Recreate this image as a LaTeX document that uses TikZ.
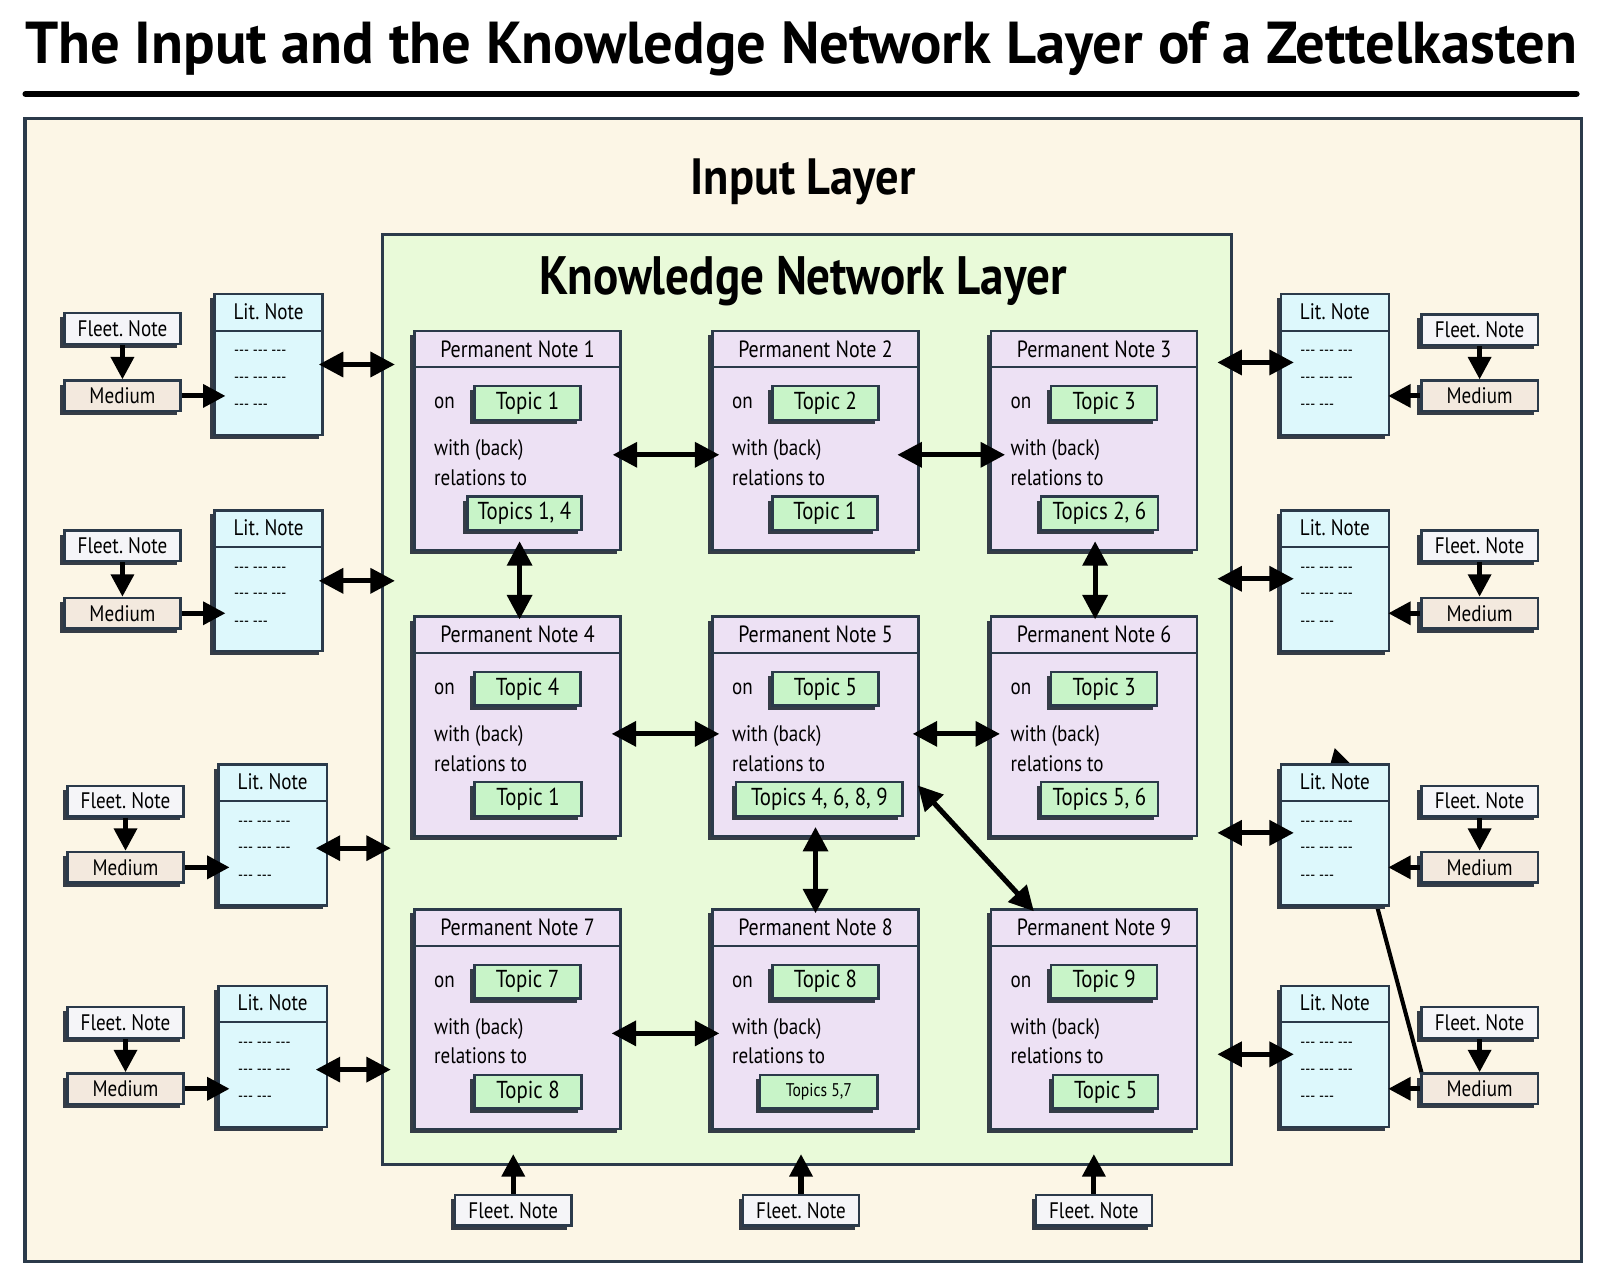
\documentclass[tikz,border=0pt]{standalone}
\usepackage{fontspec}
\setmainfont[FakeStretch=0.85]{PT Sans}
\newfontfamily\titlefont[FakeStretch=0.99]{PT Sans}
\newfontfamily\inlfont[FakeStretch=0.91]{PT Sans}
\newfontfamily\layerfont[FakeStretch=0.87]{PT Sans}
\usetikzlibrary{arrows.meta,shadows,calc}
\definecolor{bdr}{HTML}{2B3A4A}
\definecolor{shd}{HTML}{353C46}
\definecolor{outerfill}{HTML}{FCF6E6}
\definecolor{knfill}{HTML}{E9FAD9}
\definecolor{notefill}{HTML}{EDE1F4}
\definecolor{topicfill}{HTML}{C8F4C8}
\definecolor{litfill}{HTML}{DDF8FC}
\definecolor{fleetfill}{HTML}{F5F5F8}
\definecolor{medfill}{HTML}{F3E9DE}
\pgfdeclarelayer{back}
\pgfdeclarelayer{mid}
\pgfsetlayers{back,mid,main}

\newcommand{\PNote}[8]{%
  \node[pnote, anchor=north west] (#1) at (#2,#3) {};
  \draw[sep] ([yshift=-18.5pt]#1.north west) -- ([yshift=-18.5pt]#1.north east);
  \node[ptitle] (#1h) at ($(#1.north)+(0,19)$) {Permanent Note #4};
  \node[ptext, anchor=west] (#1on) at ($(#1.north west)+(20,72)$) {on};
  \node[topicbox, minimum width=52pt] (#1t) at ($(#1.north west)+(112,72)$) {#5};
  \node[ptext, anchor=west] (#1w) at ($(#1.north west)+(20,118)$) {with (back)};
  \node[ptext, anchor=west] (#1r) at ($(#1.north west)+(20,145)$) {relations to};
  \node[topicbox, minimum width=#8] (#1rel) at ($(#1.north west)+(#7,180)$) {#6};
}
\newcommand{\LitNote}[3]{%
  \node[lit, anchor=north west] (#1) at (#2,#3) {};
  \draw[sep] ([yshift=-18.5pt]#1.north west) -- ([yshift=-18.5pt]#1.north east);
  \node[littitle] (#1h) at ($(#1.north)+(0,18)$) {Lit.\ Note};
  \node[dashtext, anchor=west] (#1a) at ($(#1.north west)+(20,59)$) {-{}-{}- -{}-{}- -{}-{}-};
  \node[dashtext, anchor=west] (#1b) at ($(#1.north west)+(20,85)$) {-{}-{}- -{}-{}- -{}-{}-};
  \node[dashtext, anchor=west] (#1c) at ($(#1.north west)+(20,112)$) {-{}-{}- -{}-{}-};
}

\begin{document}
\begin{tikzpicture}[x=0.5pt,y=-0.5pt,
  box/.style={draw=bdr, line width=1.2pt, rectangle, inner sep=0pt},
  shad/.style={drop shadow={shadow xshift=-2pt,shadow yshift=-2pt,fill=shd,opacity=1}},
  sep/.style={draw=bdr, line width=1pt},
  pnote/.style={box, shad, fill=notefill, minimum width=101pt, minimum height=107.5pt},
  ptitle/.style={font=\fontsize{11.5}{13}\selectfont, inner sep=0pt},
  ptext/.style={font=\fontsize{11}{13}\selectfont, inner sep=0pt},
  topicbox/.style={box, shad, fill=topicfill, minimum height=16.5pt, font=\fontsize{12}{13}\selectfont},
  lit/.style={box, shad, fill=litfill, minimum width=53pt, minimum height=69pt},
  littitle/.style={font=\fontsize{11}{13}\selectfont, inner sep=0pt},
  dashtext/.style={font=\fontsize{8}{9}\selectfont, inner sep=0pt},
  fleet/.style={box, shad, fill=fleetfill, minimum width=57pt, minimum height=15pt, font=\fontsize{11}{13}\selectfont},
  medium/.style={fleet, fill=medfill},
  arr/.style={line width=2.5pt, {Triangle[length=12pt,width=12pt]}-{Triangle[length=12pt,width=12pt]}},
  one/.style={line width=2.5pt, -{Triangle[length=11pt,width=11pt]}}
]
\useasboundingbox (0,0) rectangle (1568,1258);

% title
\node[font=\titlefont\bfseries\fontsize{29}{32}\selectfont, inner sep=0pt] (title) at (785,48) {The Input and the Knowledge Network Layer of a Zettelkasten};
\draw[line width=3pt, line cap=round] (25,92) -- (1545,92);

% layers
\begin{pgfonlayer}{back}
\node[box, line width=1.5pt, fill=outerfill, anchor=north west, minimum width=762.5pt, minimum height=560pt] (inl) at (23,115) {};
\node[box, line width=1.5pt, fill=knfill, anchor=north west, minimum width=416pt, minimum height=456pt] (kn) at (373,228) {};
\end{pgfonlayer}
\node[font=\inlfont\bfseries\fontsize{25}{28}\selectfont, inner sep=0pt] (inltitle) at (787,178) {Input Layer};
\node[font=\layerfont\bfseries\fontsize{26.5}{30}\selectfont, inner sep=0pt] (kntitle) at (787,276) {Knowledge Network Layer};

% permanent notes
\PNote{n1}{405}{323}{1}{Topic 1}{Topics 1, 4}{109}{56pt}
\PNote{n2}{697}{323}{2}{Topic 2}{Topic 1}{111.5}{51.5pt}
\PNote{n3}{970}{323}{3}{Topic 3}{Topics 2, 6}{107.5}{57.5pt}
\PNote{n4}{405}{603}{4}{Topic 4}{Topic 1}{112.5}{52.5pt}
\PNote{n5}{697}{603}{5}{Topic 5}{Topics 4, 6, 8, 9}{106}{81.5pt}
\PNote{n6}{970}{603}{6}{Topic 3}{Topics 5, 6}{107.5}{57.5pt}
\PNote{n7}{405}{890}{7}{Topic 7}{Topic 8}{112.5}{52.5pt}
\PNote{n8}{697}{890}{8}{Topic 8}{{\fontsize{9}{10}\selectfont Topics 5,7}}{105.5}{57.5pt}
\PNote{n9}{970}{890}{9}{Topic 9}{Topic 5}{113.5}{51.5pt}

% note connectors
\draw[arr] ([xshift=-4.5pt,yshift=-7pt]n1.east) -- ([xshift=4pt,yshift=-7pt]n2.west);
\draw[arr] ([xshift=-11pt,yshift=-7pt]n2.east) -- ([xshift=7.5pt,yshift=-7pt]n3.west);
\draw[arr] ([xshift=1pt,yshift=5pt]n1.south) -- ([xshift=1pt,yshift=-2pt]n4.north);
\draw[arr] ([xshift=0.5pt,yshift=5pt]n3.south) -- ([xshift=0.5pt,yshift=-2pt]n6.north);
\draw[arr] ([xshift=-5pt,yshift=-3.75pt]n4.east) -- ([xshift=4pt,yshift=-3.75pt]n5.west);
\draw[arr] ([xshift=-3.5pt,yshift=-3.75pt]n5.east) -- ([xshift=5pt,yshift=-3.75pt]n6.west);
\draw[arr] ([yshift=5pt]n5.south) -- ([yshift=-2.5pt]n8.north);
\draw[arr] ([xshift=-1pt,yshift=-29pt]n5.east) -- ([xshift=-29.5pt,yshift=-1.5pt]n9.north);
\draw[arr] ([xshift=-5pt,yshift=-7pt]n7.east) -- ([xshift=4pt,yshift=-7pt]n8.west);

% left input column
\LitNote{litL1}{209}{287}
\LitNote{litL2}{209}{499}
\LitNote{litL3}{213}{748}
\LitNote{litL4}{213}{965}
\node[fleet] (flL1) at (120,322) {Fleet.\ Note};
\node[medium] (mdL1) at (120,388) {Medium};
\node[fleet] (flL2) at (120,535) {Fleet.\ Note};
\node[medium] (mdL2) at (120,601) {Medium};
\node[fleet] (flL3) at (123,785) {Fleet.\ Note};
\node[medium] (mdL3) at (123,850) {Medium};
\node[fleet] (flL4) at (123,1002) {Fleet.\ Note};
\node[medium] (mdL4) at (123,1067) {Medium};
\foreach \i in {1,2,3,4}{
  \draw[one] (flL\i) -- (mdL\i);
  \draw[one] (mdL\i.east) -- ([xshift=6pt]mdL\i.east -| litL\i.west);
}
\draw[arr] ([xshift=-2.5pt]litL1.east) -- ($(litL1.east -| kn.west)+(14,0)$);
\draw[arr] ([xshift=-2.5pt]litL2.east) -- ($(litL2.east -| kn.west)+(14,0)$);
\draw[arr] ([xshift=-6pt,yshift=-6.5pt]litL3.east) -- ($(litL3.east -| kn.west)+(10,13)$);
\draw[arr] ([xshift=-6pt,yshift=-6.5pt]litL4.east) -- ($(litL4.east -| kn.west)+(10,13)$);

% stray line behind right lit note 3
\begin{pgfonlayer}{mid}
\coordinate (stray) at (1308,733);
\draw[line width=2pt, -{Triangle[length=10pt,width=11pt]}] (1396,1062) -- (stray);
\end{pgfonlayer}

% right input column
\LitNote{litR1}{1254}{287}
\LitNote{litR2}{1254}{499}
\LitNote{litR3}{1254}{748}
\LitNote{litR4}{1254}{965}
\node[fleet] (flR1) at (1450,323) {Fleet.\ Note};
\node[medium] (mdR1) at (1450,388) {Medium};
\node[fleet] (flR2) at (1450,535) {Fleet.\ Note};
\node[medium] (mdR2) at (1450,601) {Medium};
\node[fleet] (flR3) at (1450,785) {Fleet.\ Note};
\node[medium] (mdR3) at (1450,850) {Medium};
\node[fleet] (flR4) at (1450,1002) {Fleet.\ Note};
\node[medium] (mdR4) at (1450,1067) {Medium};
\foreach \i in {1,2,3,4}{
  \draw[one] (flR\i) -- (mdR\i);
  \draw[one] (mdR\i.west) -- ([xshift=-1pt]mdR\i.west -| litR\i.east);
}
\draw[arr] ($(litR1.west -| kn.east)+(-15,-2)$) -- ([xshift=7pt,yshift=1pt]litR1.west);
\draw[arr] ($(litR2.west -| kn.east)+(-15,-2)$) -- ([xshift=7pt,yshift=1pt]litR2.west);
\draw[arr] ($(litR3.west -| kn.east)+(-15,-2)$) -- ([xshift=7pt,yshift=1pt]litR3.west);
\draw[arr] ($(litR4.west -| kn.east)+(-15,-2)$) -- ([xshift=7pt,yshift=1pt]litR4.west);

% bottom fleeting notes
\node[fleet] (flB1) at (503,1186) {Fleet.\ Note};
\node[fleet] (flB2) at (785,1186) {Fleet.\ Note};
\node[fleet] (flB3) at (1072,1186) {Fleet.\ Note};
\foreach \i in {1,2,3}{
  \draw[one] (flB\i.north) -- ([yshift=6pt]flB\i.north |- kn.south);
}
\end{tikzpicture}
\end{document}
